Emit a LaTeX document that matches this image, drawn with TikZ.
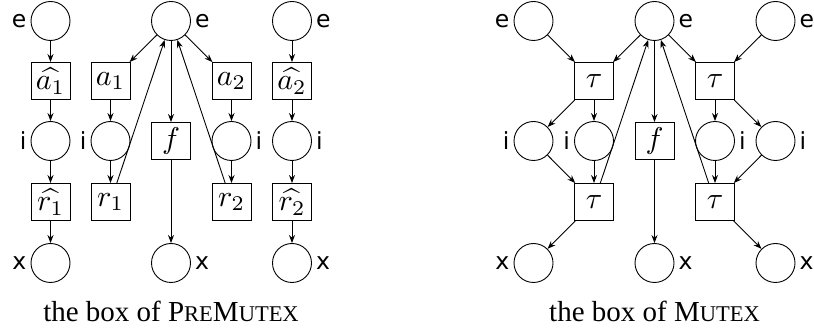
\documentclass[tikz,border=0pt]{standalone}
\usepackage[no-math]{fontspec}
\usepackage{graphicx}
\setmainfont{Liberation Serif}
\newfontfamily\labfont{DejaVu Sans}
\usetikzlibrary{arrows.meta}
\newcommand\fakesc[1]{{\fontsize{22.5}{23}\selectfont #1}}
\newcommand\bm[1]{\scalebox{3.0}{\fontsize{10}{12}\selectfont$#1$}}
\tikzset{
  place/.style={circle,draw,line width=0.9pt,minimum size=39pt,inner sep=0pt},
  trans/.style={rectangle,draw,line width=0.9pt,minimum width=39pt,minimum height=37pt,inner sep=0pt},
  arc/.style={-{Stealth[length=8pt,width=6pt]},line width=0.9pt},
  lab/.style={font=\labfont\fontsize{23.5}{24}\selectfont,inner sep=1pt},
  lL/.style={label={[lab,label distance=3pt]left:#1}},
  lR/.style={label={[lab,label distance=3pt]right:#1}},
  captext/.style={font=\fontsize{29}{29}\selectfont,anchor=base}
}
\begin{document}
\begin{tikzpicture}[x=1pt,y=-1pt]
\useasboundingbox (0,0) rectangle (814,336);
% ---------- left: PreMutex ----------
\node[place,lL=e] (Le1) at (50.5,21) {};
\node[trans] (Lah1) at (50.5,81) {\bm{\widehat{a_1}}};
\node[place,lL=i] (Li1) at (50.5,141) {};
\node[trans] (Lrh1) at (50.5,202) {\bm{\widehat{r_1}}};
\node[place,lL=x] (Lx1) at (50.5,263) {};

\node[trans] (La1) at (110.5,81) {\bm{a_1}};
\node[place,lL=i] (Li2) at (110.5,141) {};
\node[trans] (Lr1) at (110.5,202) {\bm{r_1}};

\node[place,lR=e] (Lec) at (171,21) {};
\node[trans] (Lf) at (171,141) {\bm{f}};
\node[place,lR=x] (Lxc) at (171,263) {};

\node[trans] (La2) at (231.5,81) {\bm{a_2}};
\node[place,lR=i] (Li4) at (231.5,141) {};
\node[trans] (Lr2) at (231.5,202) {\bm{r_2}};

\node[place,lR=e] (Le5) at (292,21) {};
\node[trans] (Lah2) at (292,81) {\bm{\widehat{a_2}}};
\node[place,lR=i] (Li5) at (292,141) {};
\node[trans] (Lrh2) at (292,202) {\bm{\widehat{r_2}}};
\node[place,lR=x] (Lx5) at (292,263) {};

\draw[arc] (Le1) -- (Lah1);
\draw[arc] (Lah1) -- (Li1);
\draw[arc] (Li1) -- (Lrh1);
\draw[arc] (Lrh1) -- (Lx1);
\draw[arc] (Lec) -- (La1);
\draw[arc] (La1) -- (Li2);
\draw[arc] (Li2) -- (Lr1);
\draw[arc] (Lr1) -- (Lec);
\draw[arc] (Lec) -- (Lf);
\draw[arc] (Lf) -- (Lxc);
\draw[arc] (Lec) -- (La2);
\draw[arc] (La2) -- (Li4);
\draw[arc] (Li4) -- (Lr2);
\draw[arc] (Lr2) -- (Lec);
\draw[arc] (Le5) -- (Lah2);
\draw[arc] (Lah2) -- (Li5);
\draw[arc] (Li5) -- (Lrh2);
\draw[arc] (Lrh2) -- (Lx5);

\node[captext] (Lcap) at (171,322) {the box of P\fakesc{RE}M\fakesc{UTEX}};

% ---------- right: Mutex ----------
\node[place,lL=e] (Re1) at (533.5,21) {};
\node[place,lR=e] (Rec) at (654.5,21) {};
\node[place,lR=e] (Re5) at (775.5,21) {};
\node[trans] (Rt1) at (594,81) {\bm{\tau}};
\node[trans] (Rt2) at (715,81) {\bm{\tau}};
\node[place,lL=i] (Ri1) at (533.5,141) {};
\node[place,lL=i] (Ri2) at (594,141) {};
\node[trans] (Rf) at (654.5,141) {\bm{f}};
\node[place,lR=i] (Ri4) at (715,141) {};
\node[place,lR=i] (Ri5) at (775.5,141) {};
\node[trans] (Rt3) at (594,202) {\bm{\tau}};
\node[trans] (Rt4) at (715,202) {\bm{\tau}};
\node[place,lL=x] (Rx1) at (533.5,263) {};
\node[place,lR=x] (Rxc) at (654.5,263) {};
\node[place,lR=x] (Rx5) at (775.5,263) {};

\draw[arc] (Re1) -- (Rt1);
\draw[arc] (Rec) -- (Rt1);
\draw[arc] (Rec) -- (Rt2);
\draw[arc] (Re5) -- (Rt2);
\draw[arc] (Rt1) -- (Ri1);
\draw[arc] (Rt1) -- (Ri2);
\draw[arc] (Rt2) -- (Ri4);
\draw[arc] (Rt2) -- (Ri5);
\draw[arc] (Rec) -- (Rf);
\draw[arc] (Rf) -- (Rxc);
\draw[arc] (Ri1) -- (Rt3);
\draw[arc] (Ri2) -- (Rt3);
\draw[arc] (Ri4) -- (Rt4);
\draw[arc] (Ri5) -- (Rt4);
\draw[arc] (Rt3) -- (Rec);
\draw[arc] (Rt4) -- (Rec);
\draw[arc] (Rt3) -- (Rx1);
\draw[arc] (Rt4) -- (Rx5);

\node[captext] (Rcap) at (654.5,322) {the box of M\fakesc{UTEX}};
\end{tikzpicture}
\end{document}
